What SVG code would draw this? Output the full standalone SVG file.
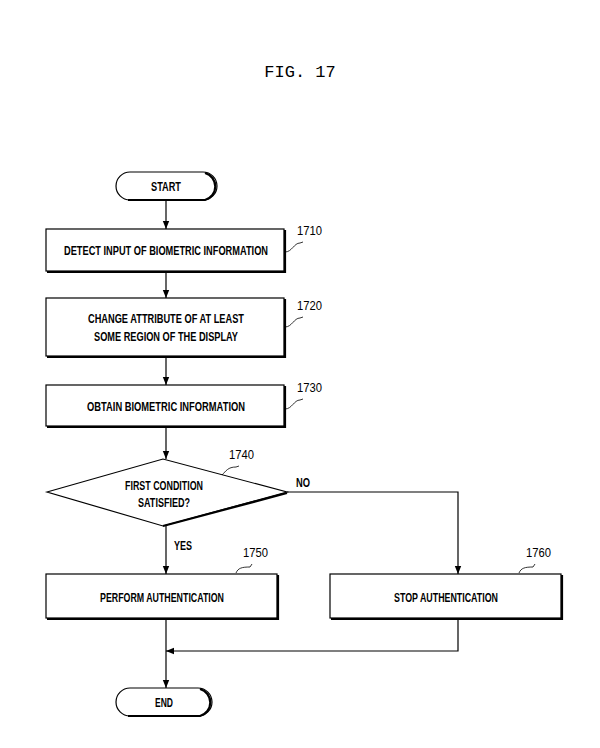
<svg xmlns="http://www.w3.org/2000/svg" width="600" height="748" viewBox="0 0 600 748">
<defs>
<style>
.b{fill:#fff;stroke:#000;stroke-width:1.2}
.sh{fill:none;stroke:#000;stroke-width:2.2}
.t{font-family:"Liberation Sans",Arial,sans-serif;font-weight:bold;font-size:13px;text-anchor:middle}
.n{font-family:"Liberation Sans",Arial,sans-serif;font-size:13px}
.c{fill:none;stroke:#000;stroke-width:1.2}
.q{fill:none;stroke:#000;stroke-width:0.8}
</style>
<marker id="a" viewBox="0 0 10 10" refX="10" refY="5" markerWidth="8" markerHeight="8" orient="auto" markerUnits="userSpaceOnUse"><path d="M0,1 L10,5 L0,9 z" fill="#000"/></marker>
</defs>
<rect width="600" height="748" fill="#fff"/>
<text x="300" y="77" font-family="Liberation Mono,monospace" font-size="17" text-anchor="middle">FIG. 17</text>
<g id="connectors">
<line class="c" x1="166" y1="201" x2="166" y2="229" marker-end="url(#a)"/>
<line class="c" x1="166" y1="272" x2="166" y2="298" marker-end="url(#a)"/>
<line class="c" x1="166" y1="357" x2="166" y2="385" marker-end="url(#a)"/>
<line class="c" x1="166" y1="427" x2="166" y2="459" marker-end="url(#a)"/>
<line class="c" x1="166" y1="526" x2="166" y2="574" marker-end="url(#a)"/>
<polyline class="c" points="287,492 458,492 458,574" marker-end="url(#a)"/>
<line class="c" x1="166" y1="619" x2="166" y2="688" marker-end="url(#a)"/>
<polyline class="c" points="458,619 458,651 166,651" marker-end="url(#a)"/>
<text class="t" x="303" y="487" textLength="14" lengthAdjust="spacingAndGlyphs">NO</text>
<text class="t" x="183" y="550" textLength="18" lengthAdjust="spacingAndGlyphs">YES</text>
</g>
<g id="start"><rect class="b" x="116" y="172" width="101" height="28" rx="14"/><path class="sh" d="M205,173 A14,14 0 0 1 205,200 L128,200"/><text class="t" x="166" y="191" textLength="30" lengthAdjust="spacingAndGlyphs">START</text></g>
<g id="n1710"><rect class="b" x="46" y="229" width="238" height="42"/><path class="sh" d="M285,230 V272 H47"/><text class="t" x="166" y="255" textLength="204" lengthAdjust="spacingAndGlyphs">DETECT INPUT OF BIOMETRIC INFORMATION</text><path class="q" d="M285,252 C292,252 294,243 300,243 L303,242"/><text class="n" x="297" y="235" textLength="25" lengthAdjust="spacingAndGlyphs">1710</text></g>
<g id="n1720"><rect class="b" x="46" y="298" width="238" height="58"/><path class="sh" d="M285,299 V357 H47"/><text class="t" x="166" y="323" textLength="156" lengthAdjust="spacingAndGlyphs">CHANGE ATTRIBUTE OF AT LEAST</text><text class="t" x="166" y="341" textLength="144" lengthAdjust="spacingAndGlyphs">SOME REGION OF THE DISPLAY</text><path class="q" d="M285,327 C292,327 294,318 300,318 L303,317"/><text class="n" x="297" y="310" textLength="25" lengthAdjust="spacingAndGlyphs">1720</text></g>
<g id="n1730"><rect class="b" x="46" y="385" width="238" height="41"/><path class="sh" d="M285,386 V427 H47"/><text class="t" x="166" y="411" textLength="158" lengthAdjust="spacingAndGlyphs">OBTAIN BIOMETRIC INFORMATION</text><path class="q" d="M285,409 C292,409 294,400 300,400 L303,399"/><text class="n" x="297" y="392" textLength="25" lengthAdjust="spacingAndGlyphs">1730</text></g>
<g id="n1740"><polygon class="b" points="47,492 163,459 287,492 163,526"/><path class="sh" d="M287,493 L163,526"/><text class="t" x="164" y="490" textLength="78" lengthAdjust="spacingAndGlyphs">FIRST CONDITION</text><text class="t" x="164" y="507" textLength="52" lengthAdjust="spacingAndGlyphs">SATISFIED?</text><path class="q" d="M222,475 C226,471 228,467 236,467 L239,466"/><text class="n" x="229" y="459" textLength="25" lengthAdjust="spacingAndGlyphs">1740</text></g>
<g id="n1750"><rect class="b" x="46" y="574" width="231" height="44"/><path class="sh" d="M278,575 V619 H47"/><text class="t" x="162" y="602" textLength="124" lengthAdjust="spacingAndGlyphs">PERFORM AUTHENTICATION</text><path class="q" d="M236,573 C238,568 242,567 250,567 L252,564"/><text class="n" x="243" y="557" textLength="25" lengthAdjust="spacingAndGlyphs">1750</text></g>
<g id="n1760"><rect class="b" x="330" y="574" width="231" height="44"/><path class="sh" d="M562,575 V619 H331"/><text class="t" x="446" y="602" textLength="104" lengthAdjust="spacingAndGlyphs">STOP AUTHENTICATION</text><path class="q" d="M519,573 C521,568 525,567 533,567 L535,564"/><text class="n" x="526" y="557" textLength="25" lengthAdjust="spacingAndGlyphs">1760</text></g>
<g id="end"><rect class="b" x="116" y="688" width="96" height="28" rx="14"/><path class="sh" d="M200,689 A14,14 0 0 1 200,716 L128,716"/><text class="t" x="164" y="707" textLength="18" lengthAdjust="spacingAndGlyphs">END</text></g>
</svg>
